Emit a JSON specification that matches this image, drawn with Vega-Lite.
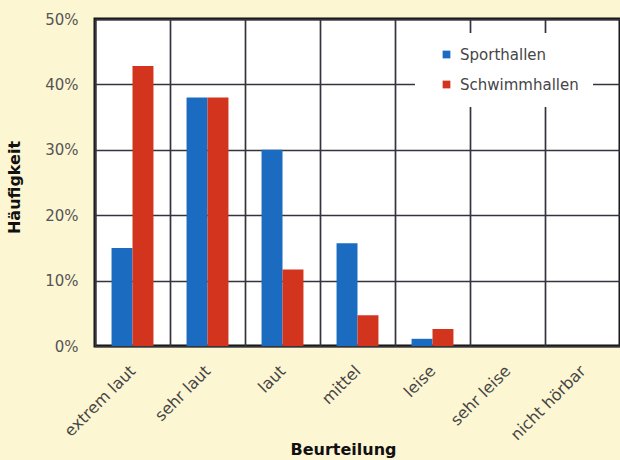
{
  "$schema": "https://vega.github.io/schema/vega-lite/v6.json",
  "autosize": "none",
  "width": 525,
  "height": 327,
  "padding": {"left": 95, "top": 19, "right": 0, "bottom": 114},
  "background": "#fdf6d3",
  "data": {
    "values": [
      {"Beurteilung": "extrem laut", "Halle": "Sporthallen", "Anteil": 0.15},
      {"Beurteilung": "extrem laut", "Halle": "Schwimmhallen", "Anteil": 0.428},
      {"Beurteilung": "sehr laut", "Halle": "Sporthallen", "Anteil": 0.38},
      {"Beurteilung": "sehr laut", "Halle": "Schwimmhallen", "Anteil": 0.38},
      {"Beurteilung": "laut", "Halle": "Sporthallen", "Anteil": 0.30},
      {"Beurteilung": "laut", "Halle": "Schwimmhallen", "Anteil": 0.117},
      {"Beurteilung": "mittel", "Halle": "Sporthallen", "Anteil": 0.157},
      {"Beurteilung": "mittel", "Halle": "Schwimmhallen", "Anteil": 0.047},
      {"Beurteilung": "leise", "Halle": "Sporthallen", "Anteil": 0.011},
      {"Beurteilung": "leise", "Halle": "Schwimmhallen", "Anteil": 0.026},
      {"Beurteilung": "sehr leise", "Halle": "Sporthallen", "Anteil": 0},
      {"Beurteilung": "sehr leise", "Halle": "Schwimmhallen", "Anteil": 0},
      {"Beurteilung": "nicht hörbar", "Halle": "Sporthallen", "Anteil": 0},
      {"Beurteilung": "nicht hörbar", "Halle": "Schwimmhallen", "Anteil": 0}
    ]
  },
  "mark": {"type": "bar"},
  "encoding": {
    "x": {
      "field": "Beurteilung",
      "type": "nominal",
      "sort": ["extrem laut", "sehr laut", "laut", "mittel", "leise", "sehr leise", "nicht hörbar"],
      "scale": {"paddingInner": 0, "paddingOuter": 0},
      "axis": {
        "title": "Beurteilung",
        "tickBand": "extent",
        "grid": true,
        "gridColor": "#34343f",
        "gridWidth": 1.7,
        "ticks": false,
        "domain": false,
        "labelAngle": -45,
        "labelAlign": "right",
        "labelBaseline": "middle",
        "labelPadding": 22,
        "labelFontSize": 16,
        "labelColor": "#454545",
        "labelFont": "DejaVu Sans",
        "titleFont": "DejaVu Sans",
        "titleFontSize": 16,
        "titleFontWeight": "bold",
        "titleColor": "#111111",
        "titleX": 248,
        "titleY": 103,
        "titleAlign": "center",
        "titleBaseline": "middle"
      }
    },
    "xOffset": {
      "field": "Halle",
      "type": "nominal",
      "sort": ["Sporthallen", "Schwimmhallen"],
      "scale": {"paddingInner": 0, "paddingOuter": 0.79}
    },
    "y": {
      "field": "Anteil",
      "type": "quantitative",
      "scale": {"domain": [0, 0.5], "nice": false},
      "axis": {
        "title": "Häufigkeit",
        "format": ".0%",
        "values": [0, 0.1, 0.2, 0.3, 0.4, 0.5],
        "grid": true,
        "gridColor": "#34343f",
        "gridWidth": 1.7,
        "ticks": false,
        "domain": false,
        "labelPadding": 17,
        "labelFontSize": 15,
        "labelColor": "#555555",
        "labelFont": "DejaVu Sans",
        "titleFont": "DejaVu Sans",
        "titleFontSize": 16,
        "titleFontWeight": "bold",
        "titleColor": "#111111",
        "titleAngle": -90,
        "titleX": -81,
        "titleY": 168,
        "titleAlign": "center",
        "titleBaseline": "middle"
      }
    },
    "color": {
      "field": "Halle",
      "type": "nominal",
      "scale": {"domain": ["Sporthallen", "Schwimmhallen"], "range": ["#1b6cc0", "#d3341e"]},
      "legend": {
        "title": null,
        "orient": "none",
        "legendX": 320,
        "legendY": 14,
        "fillColor": "#ffffff",
        "padding": 14,
        "symbolOffset": 10,
        "symbolType": "square",
        "symbolSize": 60,
        "labelFontSize": 15,
        "labelFont": "DejaVu Sans",
        "labelColor": "#454545",
        "rowPadding": 14,
        "labelOffset": 6
      }
    }
  },
  "config": {
    "view": {"fill": "#ffffff", "stroke": "#111111", "strokeWidth": 3}
  }
}
